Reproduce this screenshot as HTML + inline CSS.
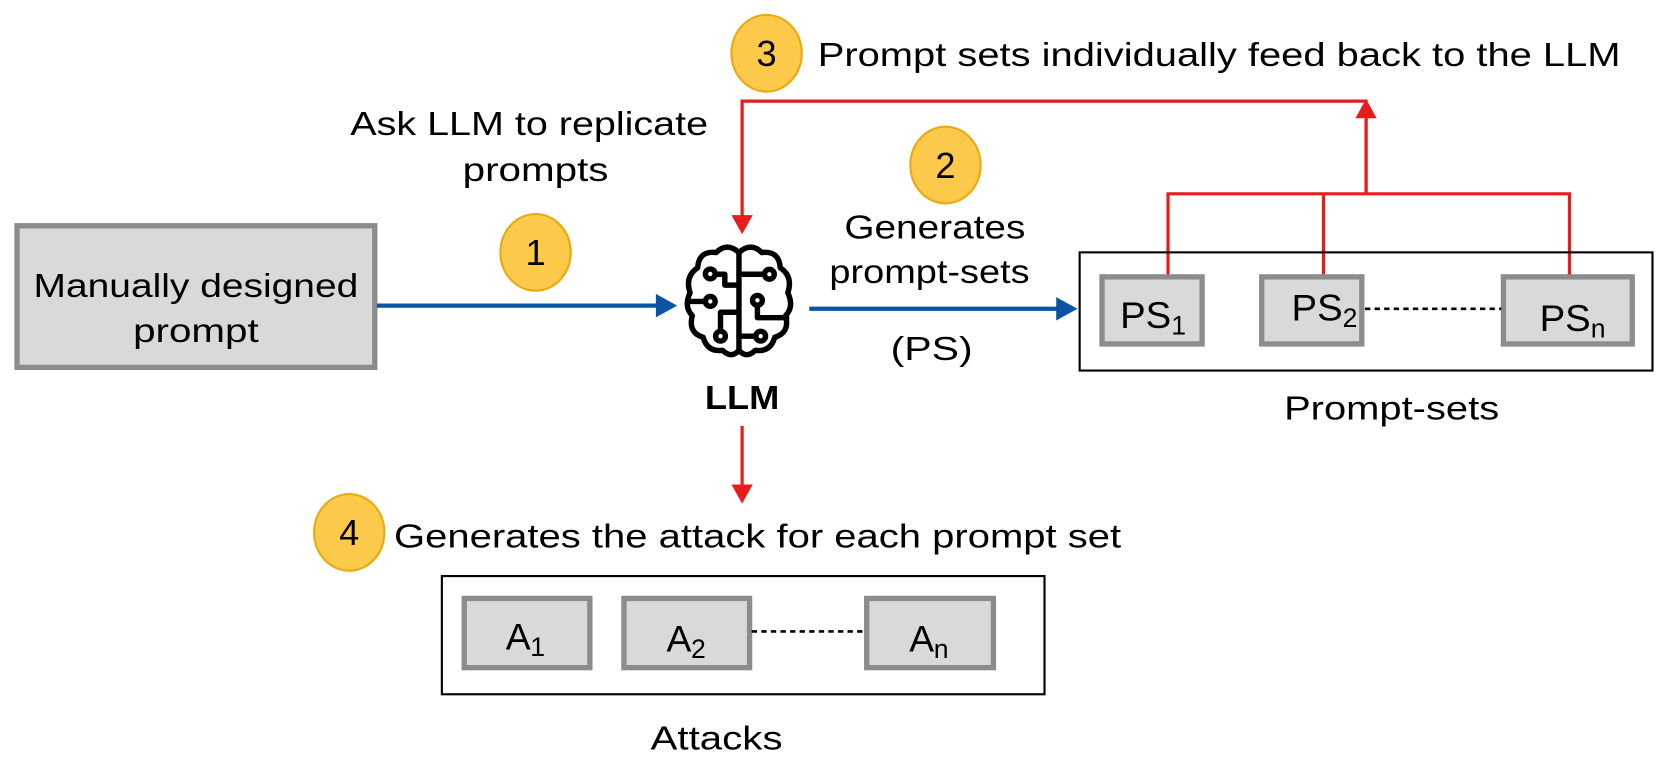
<!DOCTYPE html>
<html><head><meta charset="utf-8"><style>
html,body{margin:0;padding:0;background:#fff;}
svg{display:block;}
text{font-family:"Liberation Sans",sans-serif;fill:#000;}
</style></head><body>
<svg width="1661" height="772" viewBox="0 0 1560 725" preserveAspectRatio="none" xmlns="http://www.w3.org/2000/svg">
<rect x="16" y="212" width="336" height="133" fill="#d9d9d9" stroke="#8c8c8c" stroke-width="5"/>
<text x="184" y="279" font-size="31" text-anchor="middle" textLength="305" lengthAdjust="spacingAndGlyphs">Manually designed</text>
<text x="184" y="321" font-size="31" text-anchor="middle" textLength="118" lengthAdjust="spacingAndGlyphs">prompt</text>
<line x1="354" y1="287" x2="618" y2="287" stroke="#0a55a3" stroke-width="4"/>
<path d="M616,276 L636,287 L616,298 z" fill="#0a55a3"/>
<ellipse cx="503" cy="237" rx="33" ry="36" fill="#fdc94a" stroke="#e8aa10" stroke-width="2"/>
<text x="503" y="249" font-size="34" text-anchor="middle">1</text>
<text x="497" y="127" font-size="31" text-anchor="middle" textLength="336" lengthAdjust="spacingAndGlyphs">Ask LLM to replicate</text>
<text x="503" y="170" font-size="31" text-anchor="middle" textLength="137" lengthAdjust="spacingAndGlyphs">prompts</text>
<g transform="translate(642,229) scale(1.02)" fill="none" stroke="#000" stroke-width="5" stroke-linejoin="round" stroke-linecap="round">
<path d="M51,8 Q40,-2 30,8 Q14,6 13,22 Q1,30 6,45 Q0,58 8,66 Q4,82 18,86 Q22,100 36,98 Q44,106 51,98"/>
<path d="M51,8 Q62,-2 72,8 Q88,6 89,22 Q101,30 96,45 Q102,58 94,66 Q98,82 84,86 Q80,100 66,98 Q58,106 51,98"/>
<line x1="51" y1="8" x2="51" y2="98"/>
<circle cx="24.6" cy="27.7" r="4.5"/><polyline points="29,28 38,28 38,38 51,38"/>
<circle cx="24.6" cy="53" r="4.5"/><line x1="20" y1="53" x2="5" y2="53"/>
<circle cx="34" cy="85" r="4.5"/><polyline points="34,80 34,63 51,63"/>
<circle cx="79" cy="28" r="4.5"/><line x1="74.5" y1="28" x2="51" y2="28"/>
<circle cx="68" cy="52" r="4.5"/><polyline points="68,57 68,68 95,68"/>
<circle cx="71" cy="85" r="4.5"/><line x1="66.5" y1="85" x2="51" y2="85"/>
</g>
<text x="697" y="384" font-size="31" font-weight="bold" text-anchor="middle" textLength="70" lengthAdjust="spacingAndGlyphs">LLM</text>
<polyline points="1283,180 1283,95 697,95 697,204" fill="none" stroke="#e81c1c" stroke-width="3"/>
<path d="M687,202 L697,220 L707,202 z" fill="#e81c1c"/>
<path d="M1273,111 L1283,93 L1293,111 z" fill="#e81c1c"/>
<polyline points="1097,258 1097,182 1474,182 1474,258" fill="none" stroke="#e81c1c" stroke-width="3"/>
<line x1="1243" y1="182" x2="1243" y2="258" stroke="#e81c1c" stroke-width="3"/>
<line x1="1283" y1="182" x2="1283" y2="108" stroke="#e81c1c" stroke-width="3"/>
<ellipse cx="720" cy="50" rx="33" ry="36" fill="#fdc94a" stroke="#e8aa10" stroke-width="2"/>
<text x="720" y="62" font-size="34" text-anchor="middle">3</text>
<text x="768" y="62" font-size="31" textLength="754" lengthAdjust="spacingAndGlyphs">Prompt sets individually feed back to the LLM</text>
<ellipse cx="888" cy="155" rx="33" ry="36" fill="#fdc94a" stroke="#e8aa10" stroke-width="2"/>
<text x="888" y="167" font-size="34" text-anchor="middle">2</text>
<text x="878" y="224" font-size="31" text-anchor="middle" textLength="170" lengthAdjust="spacingAndGlyphs">Generates</text>
<text x="873" y="266" font-size="31" text-anchor="middle" textLength="188" lengthAdjust="spacingAndGlyphs">prompt-sets</text>
<text x="875" y="338" font-size="31" text-anchor="middle" textLength="77" lengthAdjust="spacingAndGlyphs">(PS)</text>
<line x1="760" y1="290" x2="994" y2="290" stroke="#0a55a3" stroke-width="4"/>
<path d="M992,279 L1012,290 L992,301 z" fill="#0a55a3"/>
<rect x="1014" y="237" width="538" height="111" fill="none" stroke="#000" stroke-width="2"/>
<rect x="1035" y="260" width="94" height="63" fill="#d9d9d9" stroke="#8c8c8c" stroke-width="5"/>
<rect x="1185" y="260" width="94" height="63" fill="#d9d9d9" stroke="#8c8c8c" stroke-width="5"/>
<rect x="1412" y="260" width="121" height="63" fill="#d9d9d9" stroke="#8c8c8c" stroke-width="5"/>
<line x1="1282" y1="290" x2="1410" y2="290" stroke="#000" stroke-width="2.5" stroke-dasharray="5,4"/>
<text x="1052" y="308" font-size="35" textLength="48" lengthAdjust="spacingAndGlyphs">PS</text><text x="1100" y="314" font-size="25">1</text>
<text x="1213" y="301" font-size="35" textLength="48" lengthAdjust="spacingAndGlyphs">PS</text><text x="1261" y="307" font-size="25">2</text>
<text x="1446" y="311" font-size="35" textLength="48" lengthAdjust="spacingAndGlyphs">PS</text><text x="1494" y="317" font-size="25">n</text>
<text x="1307" y="394" font-size="31" text-anchor="middle" textLength="202" lengthAdjust="spacingAndGlyphs">Prompt-sets</text>
<line x1="697" y1="400" x2="697" y2="458" stroke="#e81c1c" stroke-width="3"/>
<path d="M687,455 L697,473 L707,455 z" fill="#e81c1c"/>
<ellipse cx="328" cy="500" rx="33" ry="36" fill="#fdc94a" stroke="#e8aa10" stroke-width="2"/>
<text x="328" y="512" font-size="34" text-anchor="middle">4</text>
<text x="370" y="514" font-size="31" textLength="683" lengthAdjust="spacingAndGlyphs">Generates the attack for each prompt set</text>
<rect x="415" y="541" width="566" height="111" fill="none" stroke="#000" stroke-width="2"/>
<rect x="436" y="562" width="118" height="65" fill="#d9d9d9" stroke="#8c8c8c" stroke-width="5"/>
<rect x="586" y="562" width="118" height="65" fill="#d9d9d9" stroke="#8c8c8c" stroke-width="5"/>
<rect x="814" y="562" width="119" height="65" fill="#d9d9d9" stroke="#8c8c8c" stroke-width="5"/>
<line x1="706" y1="593" x2="812" y2="593" stroke="#000" stroke-width="2.5" stroke-dasharray="5,4"/>
<text x="475" y="610" font-size="35">A</text><text x="498" y="616" font-size="25">1</text>
<text x="626" y="612" font-size="35">A</text><text x="649" y="618" font-size="25">2</text>
<text x="854" y="612" font-size="35">A</text><text x="877" y="618" font-size="25">n</text>
<text x="673" y="704" font-size="31" text-anchor="middle" textLength="124" lengthAdjust="spacingAndGlyphs">Attacks</text>
</svg>
</body></html>
